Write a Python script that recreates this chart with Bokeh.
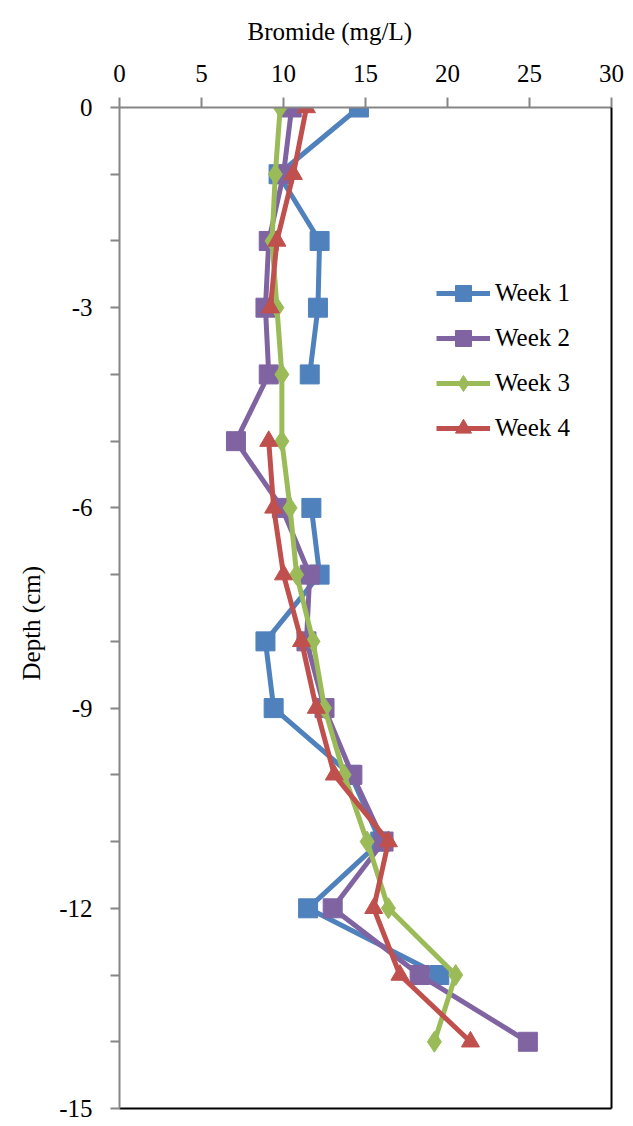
import numpy as np
from bokeh.plotting import figure
from bokeh.models import Range1d, LinearAxis, FixedTicker, Legend, LegendItem, Title
from bokeh.embed import file_html
from bokeh.resources import INLINE

nan = float("nan")

depth = [0, -1, -2, -3, -4, -5, -6, -7, -8, -9, -10, -11, -12, -13, -14]
week1 = [14.6, 9.7, 12.2, 12.1, 11.6, nan, 11.7, 12.2, 8.9, 9.4, 14.1, 15.9, 11.5, 19.5, nan]
week2 = [10.5, 10.0, 9.1, 8.9, 9.1, 7.1, 9.9, 11.6, 11.4, 12.5, 14.2, 16.1, 13.0, 18.3, 24.9]
week3 = [9.8, 9.5, 9.3, 9.6, 9.9, 9.9, 10.4, 10.8, 11.8, 12.5, 13.7, 15.1, 16.4, 20.5, 19.2]
week4 = [11.4, 10.6, 9.6, 9.2, nan, 9.1, 9.4, 10.0, 11.1, 12.0, 13.1, 16.4, 15.5, 17.1, 21.4]

series_names = ["Week 1", "Week 2", "Week 3", "Week 4"]
x_title = "Bromide (mg/L)"
y_title = "Depth (cm)"
x_ticks = [0, 5, 10, 15, 20, 25, 30]
y_ticks = list(range(-15, 1))
y_labelled = [0, -3, -6, -9, -12, -15]

colors = ["#4F81BD", "#8064A2", "#9BBB59", "#C0504D"]
markers = ["square", "square", "diamond", "triangle"]
sizes = [19, 19, 21, 18]

FONT = "'Liberation Serif'"
GRAY = "#868686"

p = figure(width=633, height=1126, output_backend="svg", toolbar_location=None,
           x_range=Range1d(0, 30), y_range=Range1d(-15, 0),
           x_axis_location="above", min_border_left=119, min_border_top=107,
           min_border_right=22, min_border_bottom=18)
p.outline_line_color = None
p.grid.visible = False
p.background_fill_color = "white"

xa = p.xaxis[0]
xa.ticker = FixedTicker(ticks=x_ticks)
ya = p.yaxis[0]
ya.ticker = FixedTicker(ticks=y_ticks)
ya.major_label_overrides = {t: ("" if t not in y_labelled else str(t)) for t in y_ticks}

for ax in (xa, ya):
    ax.axis_line_color = GRAY
    ax.axis_line_width = 2
    ax.major_tick_line_color = GRAY
    ax.major_tick_line_width = 2
    ax.minor_tick_line_color = None
    ax.major_tick_in = 0
    ax.major_label_text_font = FONT
    ax.major_label_text_font_size = "25px"
    ax.major_label_text_color = "black"

xa.major_tick_out = 10
xa.major_label_standoff = 16
ya.major_tick_out = 9
ya.major_label_standoff = 18

p.add_layout(Title(text=x_title, align="left", offset=128, standoff=30, vertical_align="top",
                   text_font=FONT, text_font_size="25px", text_font_style="normal",
                   text_color="black"), "above")
p.add_layout(Title(text=y_title, align="left", offset=428, standoff=20, vertical_align="top",
                   text_font=FONT, text_font_size="25px", text_font_style="normal",
                   text_color="black"), "left")

# right and bottom plot-area borders
for loc in ("right", "below"):
    b = LinearAxis(ticker=FixedTicker(ticks=[]), axis_line_color="black", axis_line_width=2,
                   major_tick_line_color=None, minor_tick_line_color=None,
                   major_label_text_font_size="0px", major_label_standoff=0,
                   major_tick_out=0, major_tick_in=0)
    p.add_layout(b, loc)

items = []
for name, vals, c, m, s in zip(series_names, [week1, week2, week3, week4], colors, markers, sizes):
    xs = np.array(vals, dtype=float)
    ys = np.array(depth, dtype=float)
    r1 = p.line(xs, ys, line_color=c, line_width=5)
    r2 = p.scatter(xs, ys, marker=m, size=s, fill_color=c, line_color=c)
    items.append(LegendItem(label=name, renderers=[r1, r2]))

legend = Legend(items=items, location=(317, 660), glyph_width=54, glyph_height=40,
                label_height=20, spacing=5, padding=0, margin=0, label_standoff=5,
                label_text_font=FONT, label_text_font_size="25px", label_text_color="black",
                border_line_color=None, background_fill_alpha=0)
p.add_layout(legend, "center")

open("out.html", "w").write(file_html(p, INLINE))
